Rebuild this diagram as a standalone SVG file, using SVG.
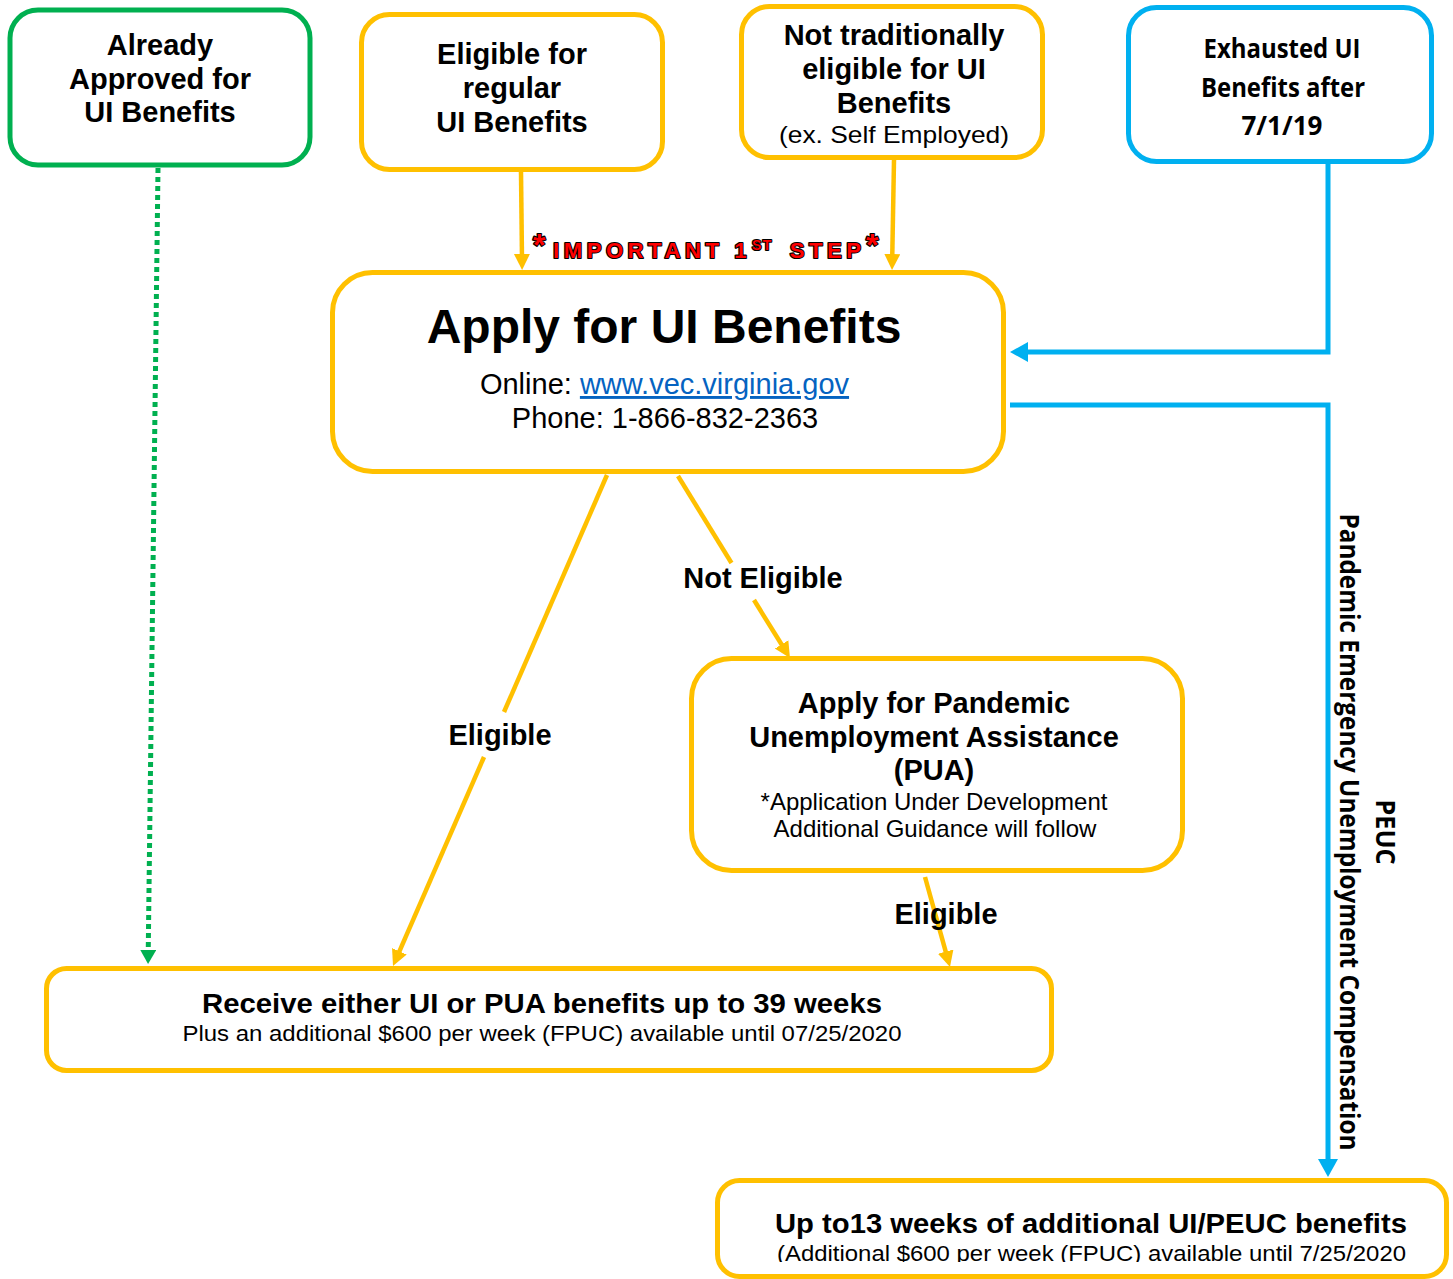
<svg xmlns="http://www.w3.org/2000/svg" width="1453" height="1279" viewBox="0 0 1453 1279">
<style>
.box{fill:#fff;stroke-width:5}
.gold{stroke:#FFC000}
.green{stroke:#00B050}
.blue{stroke:#00B0F0}
text{font-family:"Liberation Sans",Arial,sans-serif;fill:#000}
.b29{font-size:29px;font-weight:bold;text-anchor:middle}
.r29{font-size:29px;text-anchor:middle}
.r24{font-size:24px;text-anchor:middle}
.cal{font-family:"Open Sans","Noto Sans",sans-serif;font-weight:bold;font-size:26px;text-anchor:middle}
.lbl{font-size:29px;font-weight:bold;text-anchor:middle}
.imp{font-weight:bold;fill:#FF0000;stroke:#000;stroke-width:2.2;paint-order:stroke;stroke-linejoin:round}
.cg{fill:none;stroke:#FFC000;stroke-width:4.5}
.cb{fill:none;stroke:#00B0F0;stroke-width:5}
.cgr{fill:none;stroke:#00B050;stroke-width:5;stroke-dasharray:5 4}
</style>
<defs>
<marker id="ag" markerUnits="userSpaceOnUse" markerWidth="18" markerHeight="18" refX="6" refY="8" orient="auto"><path d="M0,0 L16,8 L0,16 z" fill="#FFC000"/></marker>
<marker id="ab" markerUnits="userSpaceOnUse" markerWidth="20" markerHeight="20" refX="6" refY="10" orient="auto"><path d="M0,0 L18,10 L0,20 z" fill="#00B0F0"/></marker>
<marker id="agr" markerUnits="userSpaceOnUse" markerWidth="18" markerHeight="18" refX="4" refY="8" orient="auto"><path d="M0,0 L14,8 L0,16 z" fill="#00B050"/></marker>
<clipPath id="clipBR"><rect x="700" y="1180" width="753" height="82"/></clipPath>
</defs>

<g id="connectors">
<path class="cgr" d="M158,168 L148.2,954" marker-end="url(#agr)"/>
<path class="cg" d="M521,172 L522,260" marker-end="url(#ag)"/>
<path class="cg" d="M894,160 L892.2,260" marker-end="url(#ag)"/>
<path class="cb" d="M1328,162 V352 H1022" marker-end="url(#ab)"/>
<path class="cb" d="M1010,405 H1328 V1165" marker-end="url(#ab)"/>
<path class="cg" d="M607,475 L504,712"/>
<path class="cg" d="M484,757 L397,956.8" marker-end="url(#ag)"/>
<path class="cg" d="M678,476 L731.5,563"/>
<path class="cg" d="M754,600 L784.7,649.5" marker-end="url(#ag)"/>
<path class="cg" d="M925,877 L947.3,957.4" marker-end="url(#ag)"/>
</g>

<g id="n-approved">
<rect class="box green" x="10" y="10" width="300" height="155" rx="28"/>
<text class="b29" x="160" y="55">Already</text>
<text class="b29" x="160" y="89">Approved for</text>
<text class="b29" x="160" y="122">UI Benefits</text>
</g>

<g id="n-regular">
<rect class="box gold" x="361.5" y="14.5" width="301" height="155" rx="28"/>
<text class="b29" x="512" y="64">Eligible for</text>
<text class="b29" x="512" y="98">regular</text>
<text class="b29" x="512" y="132">UI Benefits</text>
</g>

<g id="n-nottrad">
<rect class="box gold" x="741.5" y="6.5" width="301" height="151" rx="28"/>
<text class="b29" x="894" y="45">Not traditionally</text>
<text class="b29" x="894" y="79">eligible for UI</text>
<text class="b29" x="894" y="113">Benefits</text>
<text class="r24" x="894" y="143" textLength="230" lengthAdjust="spacingAndGlyphs">(ex. Self Employed)</text>
</g>

<g id="n-exhausted">
<rect class="box blue" x="1128.5" y="7.5" width="303" height="154" rx="28"/>
<text class="cal" x="1282" y="58" textLength="157" lengthAdjust="spacingAndGlyphs">Exhausted UI</text>
<text class="cal" x="1283" y="97" textLength="164" lengthAdjust="spacingAndGlyphs">Benefits after</text>
<text class="cal" x="1282" y="135" textLength="81" lengthAdjust="spacingAndGlyphs">7/1/19</text>
</g>

<g id="important-label">
<text class="imp"><tspan x="533" y="256" font-size="32">*</tspan><tspan x="553" y="258" font-size="22" letter-spacing="4.6">IMPORTANT 1</tspan><tspan x="752" y="250" font-size="14" letter-spacing="1.5">ST</tspan><tspan x="779" y="258" font-size="22" letter-spacing="4.6"> STEP</tspan><tspan x="866" y="256" font-size="32">*</tspan></text>
</g>

<g id="n-apply">
<rect class="box gold" x="332.5" y="272.5" width="671" height="199" rx="40"/>
<text x="664" y="343" style="font-size:48px;font-weight:bold;text-anchor:middle">Apply for UI Benefits</text>
<text class="r29" x="664.5" y="394">Online: <tspan fill="#0563C1" text-decoration="underline">www.vec.virginia.gov</tspan></text>
<text class="r29" x="665" y="428">Phone: 1-866-832-2363</text>
</g>

<g id="n-pua">
<rect class="box gold" x="691.5" y="658.5" width="491" height="212" rx="40"/>
<text class="b29" x="934" y="713">Apply for Pandemic</text>
<text class="b29" x="934" y="747">Unemployment Assistance</text>
<text class="b29" x="934" y="780">(PUA)</text>
<text class="r24" x="934" y="810">*Application Under Development</text>
<text class="r24" x="935" y="837">Additional Guidance will follow</text>
</g>

<g id="n-receive">
<rect class="box gold" x="46.5" y="968.5" width="1005" height="102" rx="20"/>
<text x="542" y="1013" textLength="680" lengthAdjust="spacingAndGlyphs" style="font-size:28px;font-weight:bold;text-anchor:middle">Receive either UI or PUA benefits up to 39 weeks</text>
<text x="542" y="1041" textLength="719" lengthAdjust="spacingAndGlyphs" style="font-size:22px;text-anchor:middle">Plus an additional $600 per week (FPUC) available until 07/25/2020</text>
</g>

<g id="n-peuc">
<rect class="box gold" x="717.5" y="1180.5" width="729" height="96" rx="22"/>
<text x="1091" y="1233" textLength="632" lengthAdjust="spacingAndGlyphs" style="font-size:28px;font-weight:bold;text-anchor:middle">Up to13 weeks of additional UI/PEUC benefits</text>
<text x="1091.5" y="1261" textLength="629" lengthAdjust="spacingAndGlyphs" clip-path="url(#clipBR)" style="font-size:22px;text-anchor:middle">(Additional $600 per week (FPUC) available until 7/25/2020</text>
</g>

<g id="labels">
<text class="lbl" x="763" y="588">Not Eligible</text>
<text class="lbl" x="500" y="745">Eligible</text>
<text class="lbl" x="946" y="924">Eligible</text>
<text class="cal" transform="translate(1340,832) rotate(90)" textLength="637" lengthAdjust="spacingAndGlyphs">Pandemic Emergency Unemployment Compensation</text>
<text class="cal" transform="translate(1376,832) rotate(90)" textLength="65" lengthAdjust="spacingAndGlyphs">PEUC</text>
</g>
</svg>
